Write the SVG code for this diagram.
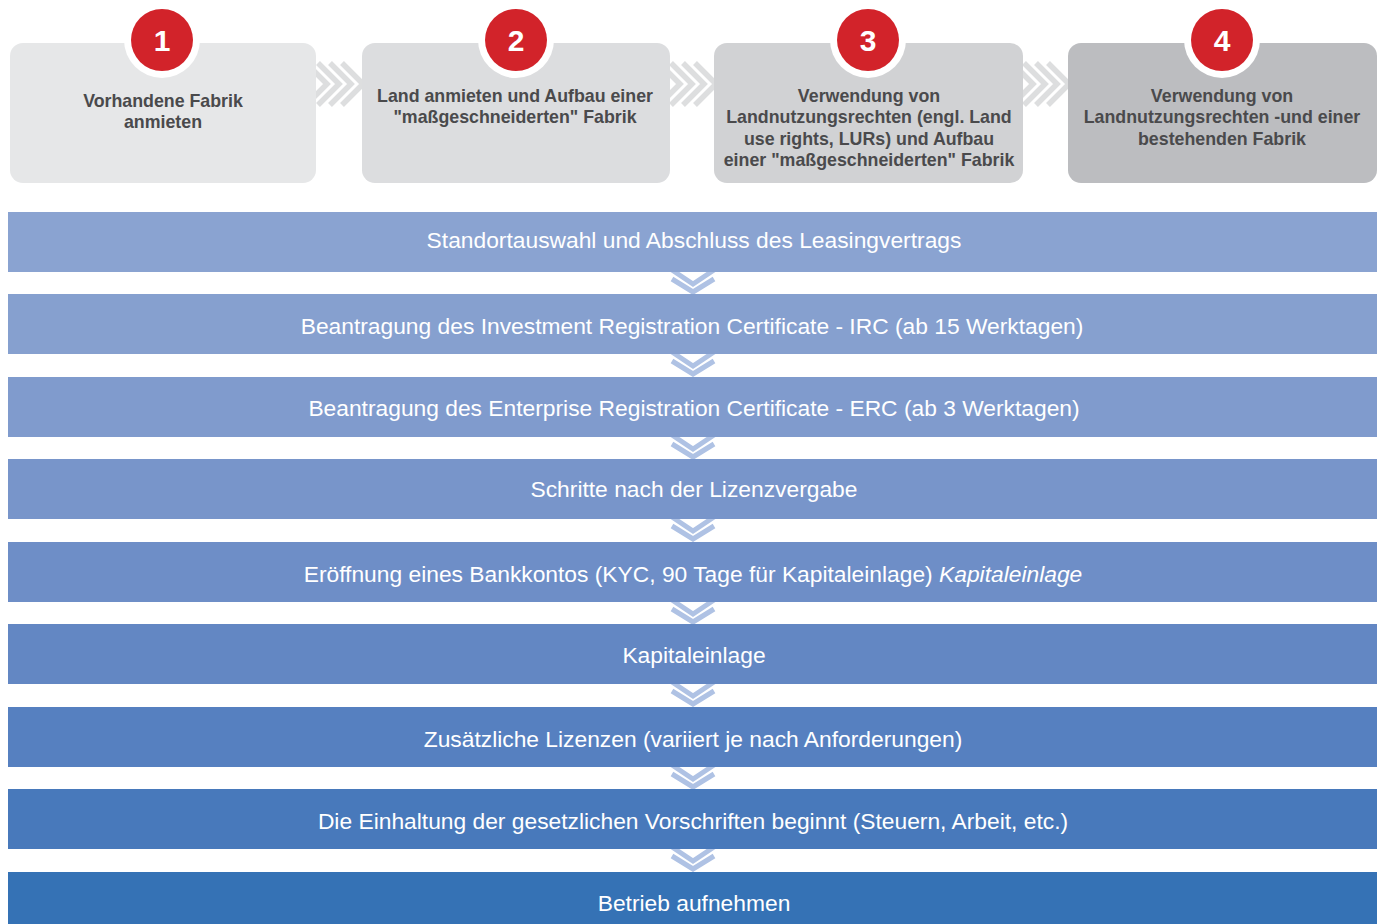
<svg xmlns="http://www.w3.org/2000/svg" width="1380" height="924" viewBox="0 0 1380 924">
<defs>
<style>
.card-t{font-family:"Liberation Sans",Arial,sans-serif;font-weight:bold;font-size:17.8px;fill:#4A4A4C;text-anchor:middle}
.num{font-family:"Liberation Sans",Arial,sans-serif;font-weight:bold;font-size:30px;fill:#FFFFFF;text-anchor:middle}
.bar-t{font-family:"Liberation Sans",Arial,sans-serif;font-size:22.8px;fill:#FFFFFF;text-anchor:middle}
.hchev{fill:none;stroke:#DDDEDF;stroke-width:5.5}
.vchev{fill:none;stroke:#AFC2E4;stroke-width:5}
</style>
<g id="hc">
<polyline class="hchev" points="0,63 21,84 0,105"/>
<polyline class="hchev" points="12,63 33,84 12,105"/>
<polyline class="hchev" points="24,63 45,84 24,105"/>
<polyline class="hchev" points="36,63 57,84 36,105"/>
</g>
<g id="vc">
<polyline class="vchev" points="672,270 693,284 714,270"/>
<polyline class="vchev" points="672,279 693,292 714,279"/>
</g>
</defs>
<rect width="1380" height="924" fill="#FFFFFF"/>
<g id="connectors">
<use href="#hc" x="306"/>
<use href="#hc" x="659"/>
<use href="#hc" x="1012"/>
<use href="#vc" y="0"/>
<use href="#vc" y="82"/>
<use href="#vc" y="165"/>
<use href="#vc" y="247"/>
<use href="#vc" y="330"/>
<use href="#vc" y="412"/>
<use href="#vc" y="495"/>
<use href="#vc" y="577"/>
</g>
<g id="card1">
<rect x="10" y="43" width="306" height="140" rx="13" fill="#E6E7E8"/>
<circle cx="162" cy="40" r="38" fill="#FFFFFF"/>
<circle cx="162" cy="40" r="31" fill="#D2232A"/>
<text class="num" x="162" y="51">1</text>
<text class="card-t" x="163" y="107">Vorhandene Fabrik</text>
<text class="card-t" x="163" y="128">anmieten</text>
</g>
<g id="card2">
<rect x="362" y="43" width="308" height="140" rx="13" fill="#DCDDDF"/>
<circle cx="516" cy="40" r="38" fill="#FFFFFF"/>
<circle cx="516" cy="40" r="31" fill="#D2232A"/>
<text class="num" x="516" y="51">2</text>
<text class="card-t" x="515" y="102">Land anmieten und Aufbau einer</text>
<text class="card-t" x="515" y="123">"maßgeschneiderten" Fabrik</text>
</g>
<g id="card3">
<rect x="714" y="43" width="309" height="140" rx="13" fill="#D1D2D4"/>
<circle cx="868" cy="40" r="38" fill="#FFFFFF"/>
<circle cx="868" cy="40" r="31" fill="#D2232A"/>
<text class="num" x="868" y="51">3</text>
<text class="card-t" x="869" y="102">Verwendung von</text>
<text class="card-t" x="869" y="123">Landnutzungsrechten (engl. Land</text>
<text class="card-t" x="869" y="145">use rights, LURs) und Aufbau</text>
<text class="card-t" x="869" y="166">einer "maßgeschneiderten" Fabrik</text>
</g>
<g id="card4">
<rect x="1068" y="43" width="309" height="140" rx="13" fill="#BCBDC0"/>
<circle cx="1222" cy="40" r="38" fill="#FFFFFF"/>
<circle cx="1222" cy="40" r="31" fill="#D2232A"/>
<text class="num" x="1222" y="51">4</text>
<text class="card-t" x="1222" y="102">Verwendung von</text>
<text class="card-t" x="1222" y="123">Landnutzungsrechten -und einer</text>
<text class="card-t" x="1222" y="145">bestehenden Fabrik</text>
</g>
<g id="step1"><rect x="8" y="212" width="1369" height="60" fill="#8AA3D1"/><text class="bar-t" x="694" y="248">Standortauswahl und Abschluss des Leasingvertrags</text></g>
<g id="step2"><rect x="8" y="294" width="1369" height="60" fill="#86A0CF"/><text class="bar-t" x="692" y="334">Beantragung des Investment Registration Certificate - IRC (ab 15 Werktagen)</text></g>
<g id="step3"><rect x="8" y="377" width="1369" height="60" fill="#809BCD"/><text class="bar-t" x="694" y="416">Beantragung des Enterprise Registration Certificate - ERC (ab 3 Werktagen)</text></g>
<g id="step4"><rect x="8" y="459" width="1369" height="60" fill="#7895CA"/><text class="bar-t" x="694" y="497">Schritte nach der Lizenzvergabe</text></g>
<g id="step5"><rect x="8" y="542" width="1369" height="60" fill="#6E8EC7"/><text class="bar-t" x="693" y="582">Eröffnung eines Bankkontos (KYC, 90 Tage für Kapitaleinlage) <tspan font-style="italic">Kapitaleinlage</tspan></text></g>
<g id="step6"><rect x="8" y="624" width="1369" height="60" fill="#6387C3"/><text class="bar-t" x="694" y="663">Kapitaleinlage</text></g>
<g id="step7"><rect x="8" y="707" width="1369" height="60" fill="#5680C0"/><text class="bar-t" x="693" y="747">Zusätzliche Lizenzen (variiert je nach Anforderungen)</text></g>
<g id="step8"><rect x="8" y="789" width="1369" height="60" fill="#4879BB"/><text class="bar-t" x="693" y="829">Die Einhaltung der gesetzlichen Vorschriften beginnt (Steuern, Arbeit, etc.)</text></g>
<g id="step9"><rect x="8" y="872" width="1369" height="60" fill="#3572B5"/><text class="bar-t" x="694" y="911">Betrieb aufnehmen</text></g>
</svg>
